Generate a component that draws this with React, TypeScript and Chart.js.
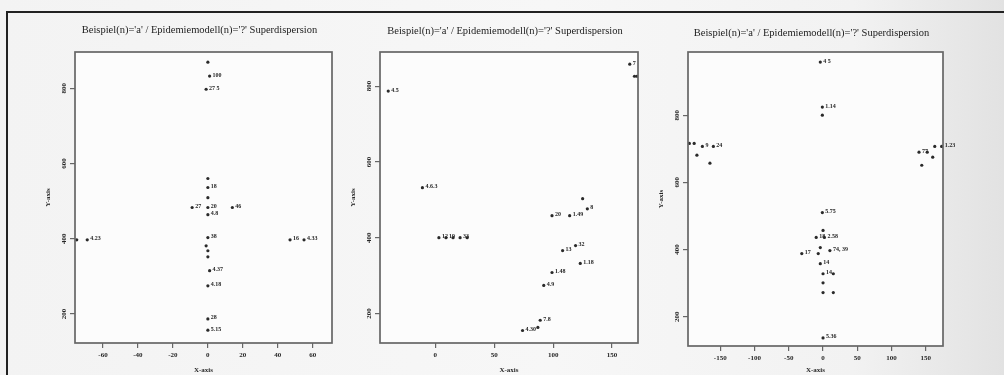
import React, { useEffect, useRef } from "react";
import { Chart, registerables } from "chart.js";

Chart.register(...registerables);

// ---------- data ----------
const titles = [
  "Beispiel(n)='a' / Epidemiemodell(n)='?' Superdispersion",
  "Beispiel(n)='a' / Epidemiemodell(n)='?' Superdispersion",
  "Beispiel(n)='a' / Epidemiemodell(n)='?' Superdispersion",
];
const xAxisTitle = "X-axis";
const yAxisTitle = "Y-axis";

const p1XTicks = [-60, -40, -20, 0, 20, 40, 60];
const p1YTicks = [200, 400, 600, 800];
const p1X = [0, 1, -1, 0, 0, 0, -9, 0, 14, 0, -75, -69, 47, 55, 0, -1, 0, 0, 1, 0, 0, 0];
const p1Y = [869, 832, 797, 560, 536, 509, 483, 483, 483, 464, 397, 397, 397, 397, 403, 381, 368, 352, 315, 275, 187, 157];
const p1L = ["", "100", "27 5", "", "18", "", "27", "20", "46", "4.8", "", "4.23", "16", "4.33", "38", "", "", "", "4.37", "4.18", "28", "5.15"];

const p2XTicks = [0, 50, 100, 150];
const p2YTicks = [200, 400, 600, 800];
const p2X = [165, 169, 171, 173, -40, -11, 3, 9, 15, 21, 27, 99, 114, 125, 129, 119, 108, 123, 99, 92, 89, 87, 74];
const p2Y = [858, 826, 826, 826, 787, 532, 400, 400, 400, 400, 400, 458, 458, 503, 476, 379, 366, 332, 308, 274, 182, 163, 155];
const p2L = ["7", "", "", "", "4.5", "4.6.3", "12", "19", "", "33", "", "20", "1.49", "", "8", "32", "13", "1.18", "1.48", "4.9", "7.8", "", "4.30"];

const p3XTicks = [-150, -100, -50, 0, 50, 100, 150];
const p3YTicks = [200, 400, 600, 800];
const p3X = [-4, -1, -1, -195, -188, -176, -160, -184, -165, 140, 152, 163, 173, 160, 144, -1, 0, -10, 2, -4, -31, -7, 10, -4, 0, 15, 0, 0, 15, 0];
const p3Y = [958, 824, 800, 716, 716, 707, 707, 681, 657, 690, 690, 707, 707, 675, 651, 510, 457, 436, 436, 406, 388, 388, 397, 358, 328, 328, 301, 272, 272, 137];
const p3L = ["4 5", "1.14", "", "", "", "9", "24", "", "", "77", "", "", "1.23", "", "", "5.75", "", "18", "2.58", "", "17", "", "74, 39", "14", "14", "", "", "", "", "5.36"];

type PlotSpec = {
  left: number;
  width: number;
  plotLeft: number;
  plotRight: number;
  plotTop: number;
  plotBottom: number;
  xMin: number;
  xMax: number;
  yMin: number;
  yMax: number;
  xTicks: number[];
  yTicks: number[];
  xs: number[];
  ys: number[];
  labels: string[];
  title: string;
  titleY: number;
};

const specs: PlotSpec[] = [
  { left: 0, width: 345, plotLeft: 75, plotRight: 332, plotTop: 52, plotBottom: 343, xMin: -76, xMax: 71, yMin: 123, yMax: 896, xTicks: p1XTicks, yTicks: p1YTicks, xs: p1X, ys: p1Y, labels: p1L, title: titles[0], titleY: 30 },
  { left: 335, width: 330, plotLeft: 380, plotRight: 638, plotTop: 52, plotBottom: 343, xMin: -47, xMax: 172, yMin: 122, yMax: 890, xTicks: p2XTicks, yTicks: p2YTicks, xs: p2X, ys: p2Y, labels: p2L, title: titles[1], titleY: 31 },
  { left: 655, width: 330, plotLeft: 688, plotRight: 943, plotTop: 52, plotBottom: 346, xMin: -197, xMax: 175, yMin: 113, yMax: 988, xTicks: p3XTicks, yTicks: p3YTicks, xs: p3X, ys: p3Y, labels: p3L, title: titles[2], titleY: 33 },
];

const SERIF = "'Liberation Serif', 'DejaVu Serif', serif";
const INK = "#262626";

function Plot({ spec }: { spec: PlotSpec }) {
  const ref = useRef<HTMLCanvasElement | null>(null);
  useEffect(() => {
    if (!ref.current) return;
    const s = spec;
    const rightPad = s.width - (s.plotRight - s.left);
    const plugin = {
      id: "decor",
      beforeDraw(chart: any) {
        const { ctx, chartArea: a } = chart;
        ctx.save();
        ctx.fillStyle = "#fcfcfc";
        ctx.fillRect(a.left, a.top, a.right - a.left, a.bottom - a.top);
        ctx.restore();
      },
      afterDatasetsDraw(chart: any) {
        const { ctx } = chart;
        const meta = chart.getDatasetMeta(0);
        ctx.save();
        ctx.font = `bold 6px ${SERIF}`;
        ctx.fillStyle = INK;
        ctx.textBaseline = "middle";
        ctx.textAlign = "left";
        meta.data.forEach((el: any, i: number) => {
          const t = s.labels[i];
          if (t) ctx.fillText(t, el.x + 3, el.y - 1);
        });
        ctx.restore();
      },
      afterDraw(chart: any) {
        const { ctx, chartArea: a } = chart;
        ctx.save();
        ctx.strokeStyle = "#666";
        ctx.lineWidth = 1.7;
        ctx.strokeRect(a.left, a.top, a.right - a.left, a.bottom - a.top);
        ctx.fillStyle = "#222";
        ctx.font = `10.5px ${SERIF}`;
        ctx.textAlign = "center";
        ctx.textBaseline = "middle";
        ctx.fillText(s.title, (a.left + a.right) / 2 - 4, s.titleY);
        ctx.restore();
      },
    };
    const chart = new Chart(ref.current, {
      type: "scatter",
      data: {
        datasets: [
          {
            data: s.xs.map((x, i) => ({ x, y: s.ys[i] })),
            pointRadius: 1.6,
            pointBackgroundColor: "#2a2a2a",
            pointBorderWidth: 0,
          },
        ],
      },
      options: {
        responsive: false,
        animation: false,
        events: [],
        layout: { padding: { top: s.plotTop, right: rightPad, left: 0, bottom: 0 } },
        plugins: { legend: { display: false }, tooltip: { enabled: false } },
        scales: {
          x: {
            type: "linear",
            min: s.xMin,
            max: s.xMax,
            afterBuildTicks: (sc: any) => {
              sc.ticks = s.xTicks.map((v) => ({ value: v }));
            },
            afterFit: (sc: any) => {
              sc.height = 375 - s.plotBottom;
            },
            grid: { drawOnChartArea: false, tickLength: 5, color: "#666", lineWidth: 1.2 },
            border: { display: false },
            ticks: { font: { family: SERIF, size: 7, weight: "bold" }, color: INK, padding: 3, maxRotation: 0, autoSkip: false },
            title: { display: true, text: xAxisTitle, padding: { top: 0, bottom: 1 }, font: { family: SERIF, size: 7, weight: "bold" }, color: INK },
          },
          y: {
            type: "linear",
            min: s.yMin,
            max: s.yMax,
            afterBuildTicks: (sc: any) => {
              sc.ticks = s.yTicks.map((v) => ({ value: v }));
            },
            afterFit: (sc: any) => {
              sc.width = s.plotLeft - s.left;
            },
            grid: { drawOnChartArea: false, tickLength: 5, color: "#666", lineWidth: 1.2 },
            border: { display: false },
            ticks: { font: { family: SERIF, size: 7, weight: "bold" }, color: INK, padding: 1, minRotation: 90, maxRotation: 90, crossAlign: "center", autoSkip: false },
            title: { display: true, text: yAxisTitle, padding: { top: s.plotLeft - s.left - 31, bottom: 0 }, font: { family: SERIF, size: 7, weight: "bold" }, color: INK },
          },
        },
      },
      plugins: [plugin],
    } as any);
    return () => chart.destroy();
  }, [spec]);
  return (
    <canvas
      ref={ref}
      width={spec.width}
      height={375}
      style={{ position: "absolute", left: spec.left, top: 0, width: spec.width, height: 375 }}
    />
  );
}

export default function App() {
  useEffect(() => {
    document.body.style.margin = "0";
  }, []);
  return (
    <div
      style={{
        position: "relative",
        width: 1004,
        height: 375,
        overflow: "hidden",
        background: "linear-gradient(to right, #f3f3f3 0%, #f7f7f7 55%, #f2f2f2 85%, #e2e2e2 100%)",
      }}
    >
      <div
        style={{
          position: "absolute",
          left: 6,
          top: 11,
          right: -4,
          bottom: -4,
          borderTop: "2px solid #222",
          borderLeft: "2px solid #222",
        }}
      />
      {specs.map((sp, i) => (
        <Plot key={i} spec={sp} />
      ))}
    </div>
  );
}
